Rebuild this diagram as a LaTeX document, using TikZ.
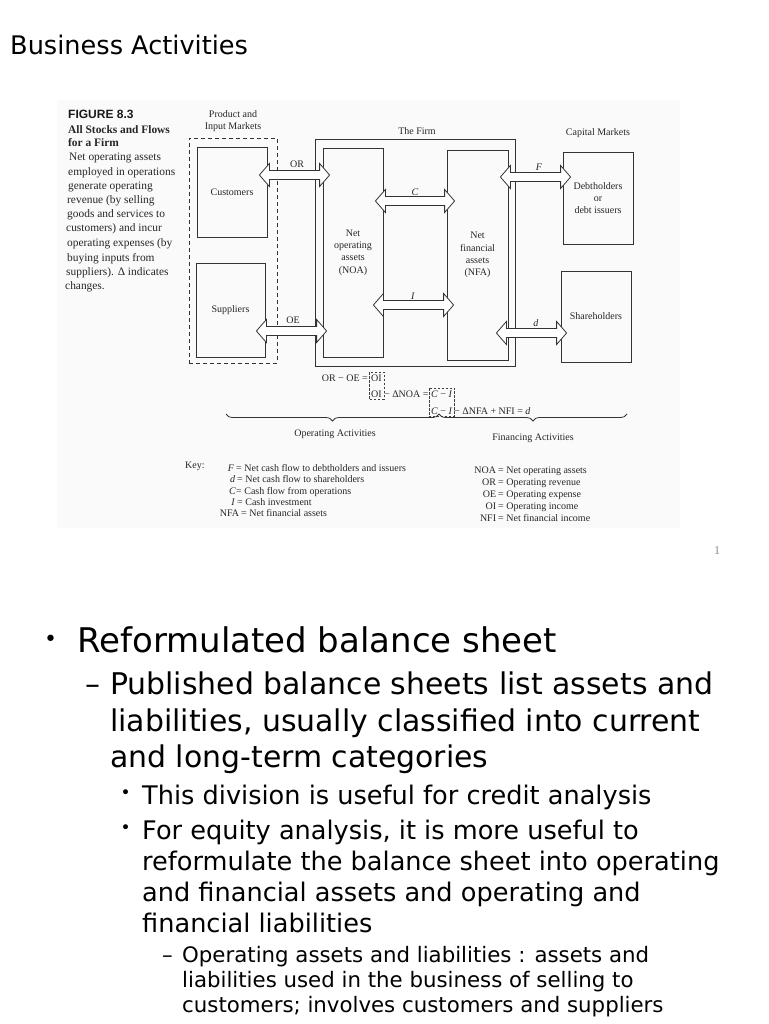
\documentclass[tikz,border=0pt]{standalone}
\usepackage{fontspec}
\setmainfont{Liberation Serif}
\newfontfamily\dejavu{DejaVu Sans}
\newfontfamily\lsans{Liberation Sans}
\usetikzlibrary{calc,decorations.pathreplacing}
\newcommand\dblarrow[2]{\draw[barrow] (#1) -- ++(10,-11.5) -- ++(0,7) -- ($(#2)+(-10,-4.5)$) -- ++(0,-7) -- (#2) -- ++(-10,11.5) -- ++(0,-7) -- ($(#1)+(10,4.5)$) -- ++(0,7) -- cycle;}
\begin{document}
\begin{tikzpicture}[x=1pt,y=-1pt,
  box/.style={draw=black!80, line width=0.8pt, align=center, inner sep=0,
    font=\fontsize{10}{12.3}\selectfont, text=black!85},
  mktbox/.style={draw=black!80, dashed, dash pattern=on 4pt off 3pt, line width=0.7pt, inner sep=0},
  firmbox/.style={draw=black!80, line width=0.8pt, inner sep=0},
  barrow/.style={draw=black!80, fill=white, line width=0.8pt, line join=miter},
  lbl/.style={inner sep=0, font=\fontsize{10}{12}\selectfont, text=black!85, align=center},
  captext/.style={anchor=base west, inner sep=0, font=\fontsize{11.4}{14}\selectfont, text=black!85},
  captbold/.style={captext, font=\bfseries\fontsize{11.4}{14}\selectfont},
  eqtext/.style={anchor=base west, inner sep=0, font=\fontsize{10}{12}\selectfont, text=black!85},
  keyl/.style={anchor=base east, inner sep=0, font=\fontsize{10}{12}\selectfont, text=black!85},
  keyr/.style={anchor=base west, inner sep=0, font=\fontsize{10}{12}\selectfont, text=black!85},
  eqbox/.style={draw=black!75, dashed, dash pattern=on 2.5pt off 1.5pt, line width=0.6pt},
  brc/.style={draw=black!80, line width=0.8pt, decorate, decoration={brace, mirror, amplitude=7pt}},
  slidetext/.style={anchor=base west, inner sep=0, text=black},
  lone/.style={slidetext, font=\dejavu\fontsize{34}{41}\selectfont},
  ltwo/.style={slidetext, font=\dejavu\fontsize{29.9}{36}\selectfont},
  lthree/.style={slidetext, font=\dejavu\fontsize{25.6}{31}\selectfont},
  lfour/.style={slidetext, font=\dejavu\fontsize{21.3}{25.6}\selectfont},
  bigdot/.style={slidetext, font=\dejavu\fontsize{22}{26}\selectfont},
  smalldot/.style={slidetext, font=\dejavu\fontsize{17}{20}\selectfont}]
\fill[white] (0,0) rectangle (768,1024);
\useasboundingbox (0,0) rectangle (768,1024);
\fill[black!2] (57,100) rectangle (680,528);

% title
\node[anchor=base west, inner sep=0, font=\dejavu\fontsize{25.6}{30}\selectfont] (title) at (10,55) {Business Activities};

% caption
\node[anchor=base west, inner sep=0, font=\lsans\bfseries\fontsize{12}{14}\selectfont, text=black!90] (figno) at (68,119) {FIGURE 8.3};
\node[captbold] (c1) at (68,134) {All Stocks and Flows};
\node[captbold] (c2) at (68,147) {for a Firm};
\node[captext] (c3) at (69,161) {Net operating assets};
\node[captext] (c4) at (68,175.5) {employed in operations};
\node[captext] (c5) at (68,190) {generate operating};
\node[captext] (c6) at (67,204) {revenue (by selling};
\node[captext] (c7) at (67,218) {goods and services to};
\node[captext] (c8) at (66,232) {customers) and incur};
\node[captext] (c9) at (67,246.5) {operating expenses (by};
\node[captext] (c10) at (67,261) {buying inputs from};
\node[captext] (c11) at (66,275) {suppliers). Δ indicates};
\node[captext] (c12) at (65,289) {changes.};

% headings
\node[lbl] (pim) at (233,121) {Product and\\Input Markets};
\node[lbl] (firmlbl) at (417,131) {The Firm};
\node[lbl] (caplbl) at (598,133) {Capital Markets};

% boxes
\node[mktbox, minimum width=88, minimum height=225] (mkt) at (233,250.5) {};
\node[firmbox, minimum width=200, minimum height=227] (firm) at (415,252.5) {};
\node[box, minimum width=70, minimum height=90] (cust) at (232,192) {Customers};
\node[box, minimum width=69, minimum height=94] (supp) at (230.5,310) {Suppliers};
\node[box, minimum width=60, minimum height=209] (noa) at (353,252.5) {Net\\operating\\assets\\(NOA)};
\node[box, minimum width=61, minimum height=210] (nfa) at (477.5,255) {Net\\financial\\assets\\(NFA)};
\node[box, minimum width=70, minimum height=92] (debt) at (598,198) {Debtholders\\or\\debt issuers};
\node[box, minimum width=70, minimum height=91] (share) at (596,316.5) {Shareholders};

% arrow end points
\coordinate (orL) at ($(cust.east |- 0,175)+(-8,0)$);
\coordinate (orR) at ($(noa.west |- 0,175)+(7,0)$);
\coordinate (oeL) at ($(supp.east |- 0,331)+(-9,0)$);
\coordinate (oeR) at ($(noa.west |- 0,331)+(4,0)$);
\coordinate (cL) at ($(noa.east |- 0,201)+(-8,0)$);
\coordinate (cR) at ($(nfa.west |- 0,201)+(8,0)$);
\coordinate (iL) at ($(noa.east |- 0,305)+(-10,0)$);
\coordinate (iR) at ($(nfa.west |- 0,305)+(7,0)$);
\coordinate (fL) at ($(nfa.east |- 0,177)+(-8,0)$);
\coordinate (fR) at ($(debt.west |- 0,177)+(8,0)$);
\coordinate (dL) at ($(nfa.east |- 0,333)+(-12,0)$);
\coordinate (dR) at ($(share.west |- 0,333)+(6,0)$);

\dblarrow{orL}{orR}
\dblarrow{oeL}{oeR}
\dblarrow{cL}{cR}
\dblarrow{iL}{iR}
\dblarrow{fL}{fR}
\dblarrow{dL}{dR}

\node[lbl] (orlbl) at (297,164) {OR};
\node[lbl] (oelbl) at (293,320) {OE};
\node[lbl] (clbl) at (415,192) {\textit{C}};
\node[lbl] (ilbl) at (413,296) {\textit{I}};
\node[lbl] (flbl) at (539,167) {\textit{F}};
\node[lbl] (dlbl) at (536,323) {\textit{d}};

% equations
\node[eqtext] (oi1) at (371,381) {OI};
\node[eqtext, anchor=base east] (eq1) at (368,381) {OR − OE =};
\node[eqtext] (oi2) at (371,397) {OI};
\node[eqtext] (eq2) at ($(oi2.base east)+(2,0)$) {− ΔNOA =};
\node[eqtext] (ci2) at (431,397) {\textit{C} − \textit{I}};
\node[eqtext] (ci3) at (431,414) {\textit{C} − \textit{I}};
\node[eqtext] (eq3) at ($(ci3.base east)+(1.5,0)$) {− ΔNFA + NFI = \textit{d}};
\draw[eqbox] ($(oi1.north west)+(-2,-2)$) rectangle ($(oi2.south east)+(2,2)$);
\draw[eqbox] ($(ci2.north west)+(-2,-2)$) rectangle ($(ci3.south east)+(2,2)$);

% braces
\coordinate (bA) at (226,414);
\coordinate (bB) at (439,414);
\coordinate (bC) at (627,414);
\draw[brc] (bA) -- (bB);
\draw[brc] (bB) -- (bC);
\node[lbl] (opact) at (335,434) {Operating Activities};
\node[lbl] (finact) at (533,438) {Financing Activities};

% key
\node[keyr] (key) at (185,468) {Key:};
\node[keyl] (k1l) at (236,471) {\textit{F}\,};
\node[keyr] (k1r) at (236,471) {= Net cash flow to debtholders and issuers};
\node[keyl] (k2l) at (237,482) {\textit{d}\,};
\node[keyr] (k2r) at (237,482) {= Net cash flow to shareholders};
\node[keyl] (k3l) at (236,494) {\textit{C}};
\node[keyr] (k3r) at (236,494) {= Cash flow from operations};
\node[keyl] (k4l) at (237,505) {\textit{I}\,};
\node[keyr] (k4r) at (237,505) {= Cash investment};
\node[keyl] (k5l) at (241,516) {NFA\,};
\node[keyr] (k5r) at (241,516) {= Net financial assets};

\node[keyl] (r1l) at (498,473) {NOA\,};
\node[keyr] (r1r) at (498,473) {= Net operating assets};
\node[keyl] (r2l) at (498,485) {OR\,};
\node[keyr] (r2r) at (498,485) {= Operating revenue};
\node[keyl] (r3l) at (498,497) {OE\,};
\node[keyr] (r3r) at (498,497) {= Operating expense};
\node[keyl] (r4l) at (498,509) {OI\,};
\node[keyr] (r4r) at (498,509) {= Operating income};
\node[keyl] (r5l) at (498,521) {NFI\,};
\node[keyr] (r5r) at (498,521) {= Net financial income};

% slide number
\node[anchor=base, inner sep=0, font=\fontsize{12}{14}\selectfont, text=black!45] (pgno) at (717,554) {1};

% bullets
\node[bigdot] (b1) at (44,646.5) {•};
\node[lone] (t1) at (77,652) {Reformulated balance sheet};
\node[ltwo] (b2) at (85,694) {–};
\node[ltwo] (t2a) at (110,694) {Published balance sheets list assets and};
\node[ltwo] (t2b) at (110,731) {liabilities, usually classified into current};
\node[ltwo] (t2c) at (110,767) {and long-term categories};
\node[smalldot] (b3a) at (120.5,798.5) {•};
\node[lthree] (t3a) at (142,804) {This division is useful for credit analysis};
\node[smalldot] (b3b) at (120.5,833.5) {•};
\node[lthree] (t3b) at (142,839) {For equity analysis, it is more useful to};
\node[lthree] (t3c) at (142,870) {reformulate the balance sheet into operating};
\node[lthree] (t3d) at (142,901) {and financial assets and operating and};
\node[lthree] (t3e) at (142,932) {financial liabilities};
\node[lfour] (b4) at (162,962) {–};
\node[lfour] (t4a) at (182,962) {Operating assets and liabilities : assets and};
\node[lfour] (t4b) at (182,987) {liabilities used in the business of selling to};
\node[lfour] (t4c) at (182,1012) {customers; involves customers and suppliers};
\end{tikzpicture}
\end{document}
